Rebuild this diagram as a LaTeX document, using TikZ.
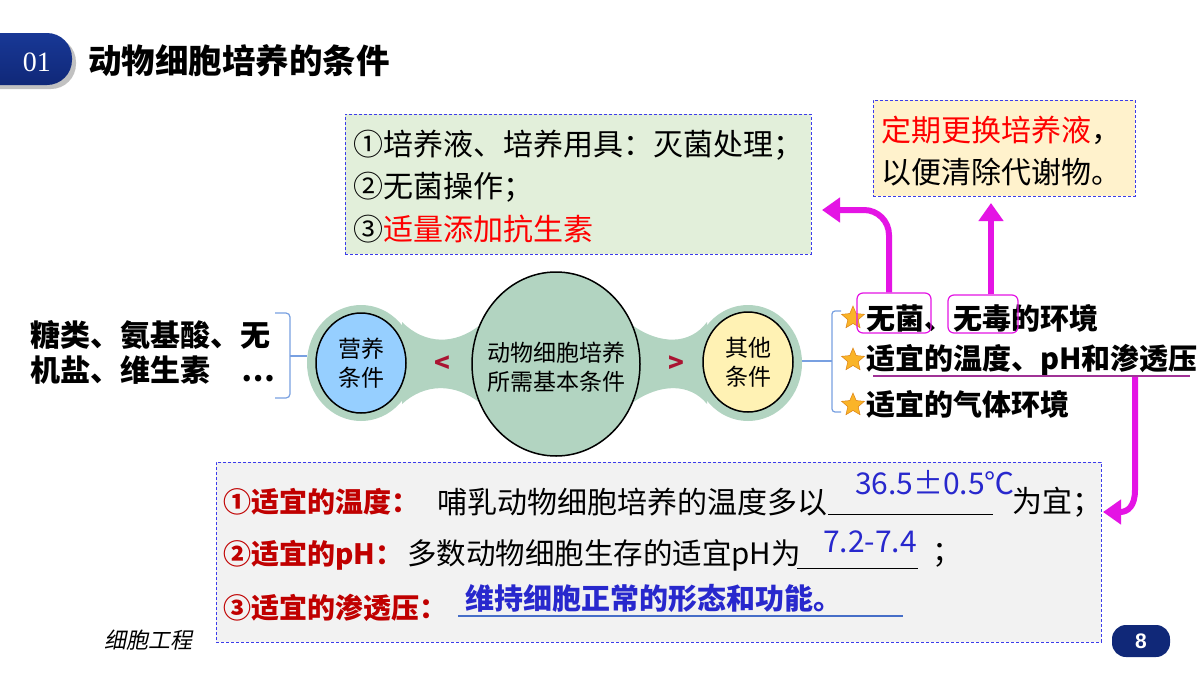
\documentclass[tikz,border=0pt]{standalone}
\usepackage{fontspec}
\setmainfont{Noto Sans CJK SC}
\newfontfamily\serifnum{Liberation Serif}
\newfontfamily\sansnum{Liberation Sans}
\newfontfamily\slantcjk{Noto Sans CJK SC}[FakeSlant=0.2]
\usetikzlibrary{arrows.meta,shapes.geometric}
\newcommand\setfs[2]{\fontsize{#1}{#2}\selectfont}
\definecolor{navy}{RGB}{16,40,120}
\definecolor{navytop}{RGB}{24,56,150}
\definecolor{boxblue}{RGB}{60,60,235}
\definecolor{greenfill}{RGB}{226,239,218}
\definecolor{orangefill}{RGB}{255,242,204}
\definecolor{greyfill}{RGB}{242,242,242}
\definecolor{halo}{RGB}{178,212,193}
\definecolor{nutblue}{RGB}{150,207,255}
\definecolor{othyellow}{RGB}{255,242,180}
\definecolor{ltred}{RGB}{170,20,50}
\definecolor{brblue}{RGB}{120,160,225}
\definecolor{starorange}{RGB}{250,180,40}
\definecolor{staredge}{RGB}{220,130,20}
\definecolor{mag}{RGB}{228,20,228}
\definecolor{ulpurple}{RGB}{160,50,150}
\definecolor{dred}{RGB}{192,0,0}
\definecolor{ansblue}{RGB}{40,40,205}
\definecolor{ulblue}{RGB}{70,110,200}
\begin{document}
\begin{tikzpicture}[x=1pt,y=-1pt,
  dbox/.style={draw=boxblue, line width=1pt, dash pattern=on 3pt off 2pt, inner sep=0},
  txt/.style={anchor=west, inner sep=0},
  magbox/.style={draw=mag, line width=1.2pt, rounded corners=6pt, minimum height=40pt, inner sep=0},
  marrow/.style={draw=mag, line width=6pt, -{Triangle[width=24pt,length=18pt]}},
  bracket/.style={draw=brblue, line width=1.2pt},
  star5/.style={star, star points=5, star point ratio=2.2, fill=starorange, draw=staredge, line width=0.5pt, minimum size=24pt, inner sep=0},
  ring/.style={ellipse, draw=black, line width=1.5pt, inner sep=0}
]
\useasboundingbox (0,0) rectangle (1200,675);
\fill[white] (0,0) rectangle (1200,675);

% title tab
\fill[black!40, opacity=0.6, rounded corners=25pt] (-30,37) rectangle (76,89);
\node[top color=navytop, bottom color=navy, rounded corners=25pt, minimum width=102pt, minimum height=52pt, inner sep=0] (tab) at (21,59) {};
\node[text=white, font=\serifnum\setfs{28}{28}, inner sep=0] (num) at (37,62) {01};
\node[txt, font=\bfseries\setfs{33.5}{34}] (title) at (88,61) {动物细胞培养的条件};

% green box
\node[dbox, fill=greenfill, minimum width=466pt, minimum height=140pt] (gbox) at (578,184) {};
\node[txt, font=\setfs{30}{30}] (g1) at (353,145) {①培养液、培养用具：灭菌处理；};
\node[txt, font=\setfs{30}{30}] (g2) at (353,187) {②无菌操作；};
\node[txt, font=\setfs{30}{30}] (g3) at (353,229) {③\textcolor{red}{适量添加抗生素}};

% orange box
\node[dbox, fill=orangefill, minimum width=262pt, minimum height=96pt] (obox) at (1004,148) {};
\node[txt, font=\setfs{30}{30}] (o1) at (881,130) {\textcolor{red}{定期更换培养液}，};
\node[txt, font=\setfs{30}{30}] (o2) at (881,172) {以便清除代谢物。};

% left list
\node[txt, font=\bfseries\setfs{30}{30}] (l1) at (30,335) {糖类、氨基酸、无};
\node[txt, font=\bfseries\setfs{30}{30}] (l2) at (30,370) {机盐、维生素\hspace{31pt}…};
\draw[bracket, rounded corners=4pt] (275,313) -- (290,313) -- (290,398) -- (275,398);
\coordinate (lbr) at (290,356);
\coordinate (lbrEnd) at (307,356);
\draw[bracket] (lbr) -- (lbrEnd);

% bone shape
\fill[halo] (402,322) .. controls (425,345) and (455,345) .. (480,325) -- (480,403) .. controls (455,383) and (425,383) .. (402,404) -- cycle;
\fill[halo] (632,325) .. controls (660,345) and (690,345) .. (707,322) -- (707,404) .. controls (690,383) and (660,383) .. (632,403) -- cycle;
\fill[halo] (361,363) ellipse [x radius=54pt, y radius=58pt];
\fill[halo] (748,363) ellipse [x radius=54pt, y radius=58pt];
\node[ring, fill=halo, minimum width=168pt, minimum height=184pt] (center) at (556,364) {};
\node[align=center, font=\setfs{23}{29}, inner sep=0] (centertxt) at (556,367) {动物细胞培养\\所需基本条件};
\node[ring, fill=nutblue, minimum width=90pt, minimum height=100pt] (nut) at (361,363) {};
\node[align=center, font=\setfs{23}{29}, inner sep=0] (nuttxt) at (361,363) {营养\\条件};
\node[ring, fill=othyellow, minimum width=90pt, minimum height=100pt] (oth) at (748,362) {};
\node[align=center, font=\setfs{23}{29}, inner sep=0] (othtxt) at (748,362) {其他\\条件};
\node[font=\bfseries\setfs{26}{26}, text=ltred, inner sep=0] (lt) at (442,364) {<};
\node[font=\bfseries\setfs{26}{26}, text=ltred, inner sep=0] (gt) at (676,364) {>};

% right bracket and list
\draw[bracket, rounded corners=3pt] (841,311) -- (832,311) -- (832,412) -- (841,412);
\coordinate (rbr) at (832,361);
\coordinate (rbrEnd) at (802,361);
\draw[bracket] (rbrEnd) -- (rbr);
\node[star5] (s1) at (853,318) {};
\node[star5] (s2) at (853,360) {};
\node[star5] (s3) at (853,405) {};
\node[txt, font=\bfseries\setfs{29}{29}] (r1) at (866,318) {无菌、无毒的环境};
\node[txt, font=\bfseries\setfs{29}{29}] (r2) at (866,360) {适宜的温度、pH和渗透压};
\node[txt, font=\bfseries\setfs{29}{29}] (r3) at (866,404) {适宜的气体环境};
\node[magbox, minimum width=74pt] (wujun) at (894,313) {};
\node[magbox, minimum width=70pt, minimum height=38pt] (wudu) at (983,314) {};
\coordinate (ulL) at (873,376);
\coordinate (ulR) at (1190,376);
\draw[line width=2.5pt, draw=ulpurple] (ulL) -- (ulR);

% magenta arrows
\coordinate (a1) at (822,210);
\draw[marrow, rounded corners=25pt] ([xshift=-5pt]wujun.north) |- (a1);
\coordinate (a2) at (991,203);
\draw[marrow] (a2 |- wudu.north) -- (a2);
\coordinate (a3s) at (1135,377);
\coordinate (a3) at (1103,512);
\draw[marrow] (a3s) -- (1135,490) .. controls (1135,506) and (1128,512) .. (a3);

% bottom box
\node[dbox, fill=greyfill, minimum width=885pt, minimum height=180pt] (bbox) at (658.5,552) {};
\node[txt, font=\bfseries\setfs{28}{28}, text=dred] (b1) at (223,502) {①适宜的温度：};
\node[txt, font=\setfs{30}{30}] (b1t) at (437,502) {哺乳动物细胞培养的温度多以};
\coordinate (u1a) at (828,514);
\coordinate (u1b) at (993,514);
\draw[line width=0.8pt] (u1a) -- (u1b);
\node[font=\setfs{30}{30}, text=ansblue, inner sep=0] (ans1) at (935,483) {36.5±0.5℃};
\node[txt, font=\setfs{30}{30}] (b1e) at (1012,502) {为宜；};

\node[txt, font=\bfseries\setfs{28}{28}, text=dred] (b2) at (223,555) {②适宜的pH：};
\node[txt, font=\setfs{29.5}{30}] (b2t) at (407,555) {多数动物细胞生存的适宜pH为};
\coordinate (u2a) at (797,568);
\coordinate (u2b) at (918,568);
\draw[line width=0.8pt] (u2a) -- (u2b);
\node[font=\setfs{30}{30}, text=ansblue, inner sep=0] (ans2) at (870,542) {7.2-7.4};
\node[txt, font=\setfs{30}{30}] (b2e) at (932,555) {；};

\node[txt, font=\bfseries\setfs{28}{28}, text=dred] (b3) at (223,608) {③适宜的渗透压：};
\node[txt, font=\bfseries\setfs{29}{29}, text=ansblue] (ans3) at (465,598) {维持细胞正常的形态和功能。};
\coordinate (u3a) at (458,616);
\coordinate (u3b) at (903,616);
\draw[line width=1.2pt, draw=ulblue] (u3a) -- (u3b);

% footer
\node[txt, font=\slantcjk\setfs{22}{22}] (foot) at (104,640) {细胞工程};
\node[fill=navy, rounded corners=14pt, minimum width=58pt, minimum height=32pt, inner sep=0, text=white, font=\sansnum\bfseries\setfs{21}{21}] (pg) at (1141,641) {8};
\end{tikzpicture}
\end{document}
